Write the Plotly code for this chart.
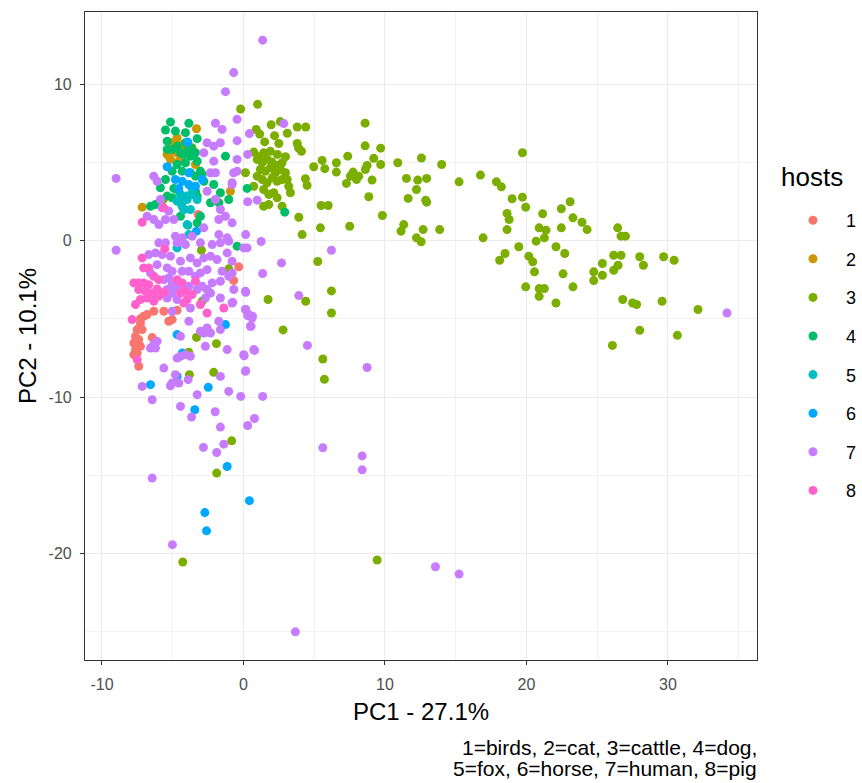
import plotly.graph_objects as go

# ---------------- data ----------------
host_labels = ["1", "2", "3", "4", "5", "6", "7", "8"]
host_colors = ["#F8766D", "#CD9600", "#7CAE00", "#00BE67", "#00BFC4", "#00A9FF", "#C77CFF", "#FF61CC"]

birds_x = [-3.20, -0.33, -0.69, -6.34, -5.63, -4.69, -5.04, -5.28, -7.05, -7.28, -7.51, -7.63, -7.75, -7.63,
           -7.75, -7.51, -7.28, -7.40, -7.16, -6.81, -7.28, -7.40, -6.45]
birds_y = [1.66, -1.68, -2.56, -4.52, -4.52, -4.46, -5.05, -5.16, -4.84, -5.27, -5.69, -6.12, -6.55, -6.97,
           -7.29, -7.19, -6.76, -6.33, -5.69, -4.73, -4.99, -8.04, -6.20]

cat_x = [-3.32, -4.69, -5.04, -4.69, -5.16, -4.57, -3.39, -0.92, -7.16, -5.28, -4.40, -5.40]
cat_y = [7.14, 6.57, 6.25, 5.61, 5.18, 5.07, 4.86, 3.15, 2.13, 5.39, 6.10, 5.50]

cattle_x = [-0.2, 1.0, 8.6, 1.96, 2.6, 3.8, 4.4, 0.9, 1.15, 2.2, 3.1, 1.5, 2.5, 3.8, 3.9, 4.1, 8.6, 9.7,
            0.73, 1.08, 1.43, 1.9, 2.4, 2.97,
            0.97, 1.32, 1.67, 2.03, 2.38, 2.73, 1.20, 1.55, 1.91, 2.26, 2.61, 2.97, 3.09, 2.73, 0.97, 1.32,
            1.67, 2.03, 2.38, 0.73, 1.43, 1.79, 2.14, 2.38, 1.43, 1.79, 2.73, 3.32, 3.20, 0.14,
            3.91, 4.15, 4.38, 4.50, 4.97, 5.56, 5.75, 6.57, 6.57, 7.37, 7.56, 7.75, 7.99, 7.28, 8.15, 8.62,
            8.74, 9.21, 9.70, 9.09, 8.86, 9.82, 10.91, 11.52, 12.58, 12.32, 12.95, 12.23, 11.64, 12.88, 12.95,
            14.01, 15.24, 16.75, 5.49, 5.99, 5.44, 7.51, 11.14, 11.33, 12.23, 12.56, 12.70, 13.87, 5.25,
            19.72, 17.88, 18.23, 18.99, 19.72, 19.95, 18.63, 18.78, 18.63, 16.94, 21.15, 22.47, 23.09, 23.29,
            23.93, 24.29, 22.47, 20.90, 21.39, 21.27, 20.69, 19.46, 18.49, 18.11, 20.17, 20.45, 20.57, 22.09,
            22.71, 22.59, 19.95, 20.90, 21.27, 20.90, 22.09, 23.29, 26.45, 26.69, 27.0, 24.76, 24.76, 25.37,
            25.37, 26.17, 26.69, 26.48, 26.17, 28.01, 28.27, 29.70, 30.44, 26.81, 27.51, 27.79, 29.59, 32.13,
            28.01, 30.67, 26.08,
            1.74, 4.40, 6.22, 6.22, 2.80, 5.61, 5.72, -0.83, 9.45, -2.97, -1.04, -3.32, -1.91, -3.82, -2.10,
            -2.92, -3.87, -1.89, -4.29, -3.63, -5.67]
cattle_y = [8.4, 8.7, 7.5, 7.4, 7.6, 7.25, 7.25, 7.1, 6.8, 6.7, 6.85, 6.3, 6.2, 6.2, 5.9, 5.7, 6.05, 5.9,
            5.65, 5.35, 5.6, 5.7, 5.5, 5.35,
            5.18, 4.97, 5.18, 5.01, 4.80, 4.97, 4.54, 4.43, 4.65, 4.33, 4.54, 4.33, 3.90, 3.90, 4.11, 3.90,
            3.69, 4.01, 3.79, 3.47, 3.26, 2.94, 3.05, 2.73, 2.19, 2.30, 2.19, 3.05, 3.47, 4.33,
            1.49, 0.38, 3.95, 3.52, 4.71, 5.12, 4.59, 4.97, 4.37, 5.39, 4.11, 4.37, 3.90, 3.65, 4.11, 4.54,
            4.80, 5.25, 4.86, 3.86, 2.80, 1.60, 4.97, 3.97, 5.27, 3.86, 3.97, 3.26, 2.69, 2.58, 2.45,
            4.86, 3.75, 4.18, 2.24, 2.24, 0.81, 0.91, 0.60, 1.02, 0.17, -0.08, 0.70, 0.70, -1.34,
            5.61, 3.75, 3.43, 2.67, 2.77, 2.13, 1.73, 1.34, 0.70, 0.17, 1.71, 2.03, 2.48, 1.45,
            1.17, 0.70, 0.81, 0.81, 0.66, 0.17, -0.04, -0.40, -0.83, -1.26, -1.00, -1.36, -2.00, -0.40,
            -0.83, -2.13, -2.96, -3.07, -3.07, -3.56, -3.99, -2.96, 0.81, 0.28, 0.28, -2.00, -2.56, -1.47,
            -2.22, -0.94, -0.94, -1.58, -1.90, -1.04, -1.58, -1.04, -1.26, -3.77, -3.99, -4.09, -3.88, -4.41,
            -5.74, -6.06, -6.70,
            -3.77, -3.88, -3.22, -4.63, -5.71, -7.57, -8.87, -12.80, -20.41, -0.62, -1.81, -6.19, -6.59, -8.57, -8.42,
            -3.88, -7.14, -14.86, -20.54, 5.93, 2.62]

dog_x = [-5.16, -3.86, -5.51, -4.81, -4.10, -3.27, -5.39, -5.39, -4.69, -4.10, -3.75, -4.22, -3.75, -3.27,
         -4.10, -4.69, -3.04, -1.27, -3.75, -5.51, -5.87, -5.04, -5.39, -4.33, -3.98, -3.27, -2.10, -1.63,
         -1.04, -1.74, -2.33, -6.57, -6.22, -4.45, -3.93, -3.27, -3.04, -0.45, 0.26, -3.39, -2.80, -4.57,
         -4.92, -5.04, -4.45, -3.98, -3.39, -4.33, -5.04, -3.39, -2.92, 2.92]
dog_y = [7.57, 7.49, 7.06, 6.99, 6.89, 6.51, 6.35, 5.82, 6.03, 6.25, 5.93, 5.50, 5.39, 5.07,
         4.97, 4.86, 4.43, 5.39, 4.33, 3.90, 3.37, 2.73, 2.84, 2.62, 2.84, 2.84, 3.58, 3.05,
         2.62, 2.41, 2.41, 2.19, 2.30, 1.55, 0.98, 1.13, 1.55, -0.36, 3.33, 3.15, 3.79, 3.15,
         3.33, 5.82, 5.61, 5.71, 5.61, 4.43, 4.43, 4.11, 4.22, 1.81]

fox_x = [-4.45, -3.98, -3.63, -4.33, -4.69, -4.22, -3.86, -3.63, -3.27, -3.75, -3.98, -4.69, -4.45, -3.98]
fox_y = [2.94, 2.62, 2.94, 2.19, 2.52, 1.98, 0.38, 3.33, 2.62, 1.98, 1.02, -0.47, 2.41, 2.83]

horse_x = [-3.93, -5.39, -4.81, -4.33, -3.86, -2.92, -3.39, -3.86, -4.57, -3.32, -1.27, -4.69, -4.33,
           -4.69, -6.57, -2.49, -3.44, -1.15, 0.42, -2.73, -2.61]
horse_y = [6.29, 4.71, 3.90, 3.79, 3.58, 3.90, 3.47, 4.33, 3.33, 0.60, -5.37, -6.01, -7.19,
           -8.68, -9.21, -9.38, -10.81, -14.44, -16.62, -17.38, -18.55]

human_x = [1.36, -0.69, -1.27, -0.45, 0.42, 2.85, 0.30, -0.69, -0.45, -0.80, 0.30, 0.97, 0.16, 1.25,
           0.02, 6.22, 2.69, 1.36, -0.80,
           -9.0, -1.98, -1.51, -0.45, -1.63, -2.57, -2.10, -2.80, -2.33, -0.45, -2.57, -1.98, -1.63,
           -6.34, -6.10, -5.87, -6.81, -6.34, -5.98, -5.51, -5.28, -4.92, -4.81, -4.33, -3.63, -2.80,
           -1.74, -1.27, -0.80, -1.74, -1.15, -5.75, -2.10, -1.98,
           -9.0, -5.98, -5.51, -4.69, -4.10, -3.04, -2.21, -1.63, -1.04, 0.26, -6.69, -6.22, -5.75,
           -5.16, -4.45, -3.75, -3.27, -2.80, -2.33, -1.86, -1.15, -0.80, -0.80, -1.51, -6.57, -6.10,
           -5.39, -5.04, -4.33, -3.86, -3.39, -3.04, -2.57, -5.63, -5.28, -5.04, -5.39, -5.04, -4.69,
           -4.22, -3.86, -5.39, -4.69, -3.27, -2.92, -2.57, -2.33, -2.69, -2.21, -1.63, -1.04, -0.68,
           0.14, -1.63, -0.80, -3.75, -5.04, -3.86, -3.04, -2.57, -2.33, -2.80, -1.74, -1.63, 0.14,
           0.38, 0.61, 0.49, -4.45, -2.69, -1.15, 0.02, 0.73, -6.34, -6.22, -6.57, -6.10, -4.69,
           -4.45, -4.10, -3.75, -5.63, -4.81, -5.04, -4.57, -3.91, -1.63, 0.14, -1.04, -3.27, -0.19,
           -6.45, -7.16, -4.45,
           0.16, -0.76, 3.91, 0.16, 0.30, 0.64, 0.54, 4.52, 0.78, 0.05, 0.16, 8.74, 1.36, 0.78,
           0.30, 5.61, 8.39, 8.39, 13.57, 15.24, 3.67,
           -5.16, -3.67, -2.0, -1.63, -1.39, -2.83, -1.89, -6.45, -5.02, 34.18]
human_y = [12.80, 10.73, 9.51, 7.74, 6.83, 7.47, 5.50, 4.33, 4.43, 3.69, 2.48, 2.58, 0.38, -0.06,
           -0.47, -0.62, -1.43, -2.11, 3.58,
           3.97, 7.49, 7.10, 5.18, 6.25, 6.25, 5.07, 5.61, 4.33, 6.38, 3.15, 2.62, 1.98,
           4.11, 3.79, 2.62, 1.55, 1.34, 1.02, 1.34, 1.88, 1.34, 0.28, 0.17, 0.28, 0.81,
           1.34, 1.55, 1.13, 0.38, 0.17, 2.09, 6.03, 4.33,
           -0.62, -0.15, -0.15, -0.15, -0.26, -0.15, -0.26, -0.15, -0.04, -0.47, -0.90, -0.79, -0.90,
           -1.00, -1.32, -1.11, -1.43, -1.11, -1.00, -1.22, -0.79, -1.32, -2.07, -1.96, -2.07, -1.54,
           -1.75, -1.96, -1.96, -1.96, -2.28, -2.07, -1.86, -2.50, -2.39, -2.82, -3.13, -3.35, -3.03,
           -3.13, -2.92, -3.67, -3.77, -3.13, -2.92, -3.13, -3.35, -3.67, -2.71, -2.60, -2.28, -3.13,
           -3.24, -3.67, -3.99, -4.31, -4.52, -5.16, -5.80, -5.59, -5.91, -5.91, -5.16, -5.69, -4.41,
           -4.73, -4.95, -5.48, -6.12, -6.76, -6.97, -7.29, -6.97, -6.65, -6.87, -6.87, -6.44, -7.51,
           -7.40, -7.29, -7.40, -8.15, -8.57, -9.10, -9.10, -8.89, -8.68, -8.36, -9.64, -9.85, -9.96,
           -10.17, -9.32, -10.60,
           -3.31, -3.95, -3.52, -4.41, -4.80, -4.84, -5.48, -6.70, -7.02, -7.36, -8.32, -8.11, -9.96, -11.37,
           -11.82, -13.24, -13.76, -14.65, -20.84, -21.31, -25.0,
           -9.28, -11.28, -10.94, -11.92, -13.01, -13.22, -13.54, -15.18, -19.43, -4.63]

pig_x = [-5.63, -7.16, -7.16, -7.05, -6.69, -5.56, -7.75, -7.40, -7.05, -6.69, -6.34, -5.99, -7.63, -7.28,
         -6.81, -6.34, -5.99, -7.40, -6.93, -6.45, -4.69, -4.33, -4.45, -4.10, -3.98, -4.22, -3.63, -3.39,
         -3.04, -2.57, -1.39, -7.87, -7.51, -5.60, -6.10]
pig_y = [2.09, 1.17, -1.11, -1.75, -1.75, -0.53, -2.71, -2.71, -2.71, -2.82, -2.28, -2.50, -4.09, -3.77,
         -3.67, -3.88, -3.56, -3.13, -3.24, -3.35, -2.50, -2.71, -3.35, -3.24, -3.77, -3.99, -3.45, -2.60,
         -4.09, -4.63, -4.31, -5.05, -7.61, -3.30, -3.10]

groups_x = [birds_x, cat_x, cattle_x, dog_x, fox_x, horse_x, human_x, pig_x]
groups_y = [birds_y, cat_y, cattle_y, dog_y, fox_y, horse_y, human_y, pig_y]

x_ticks = [-10, 0, 10, 20, 30]
y_ticks = [-20, -10, 0, 10]
x_title = "PC1 - 27.1%"
y_title = "PC2 - 10.1%"
legend_title = "hosts"
caption_lines = ["1=birds, 2=cat, 3=cattle, 4=dog,", "5=fox, 6=horse, 7=human, 8=pig"]

# ---------------- figure ----------------
FONT = "Liberation Sans, Arial, sans-serif"
fig = go.Figure()
for lab, col, xs, ys in zip(host_labels, host_colors, groups_x, groups_y):
    fig.add_trace(go.Scatter(
        x=xs, y=ys, mode="markers", name=lab, legendgroup=lab,
        marker=dict(color=col, size=9, line=dict(width=0)),
    ))

axis_common = dict(
    showgrid=True, gridcolor="#EBEBEB", gridwidth=1.1,
    zeroline=False, showline=True, linecolor="#333333", linewidth=1.2, mirror=True,
    ticks="outside", ticklen=4, tickcolor="#333333", tickwidth=1,
    tickfont=dict(family=FONT, size=16, color="#4D4D4D"),
    minor=dict(dtick=5, tick0=0, showgrid=True, gridcolor="#F2F2F2", gridwidth=0.8, ticks=""),
)
fig.update_xaxes(range=[-11.2, 36.3], tickvals=x_ticks, ticktext=[str(v) for v in x_ticks],
                 ticklabelstandoff=6, **axis_common)
fig.update_yaxes(range=[-26.8, 14.6], tickvals=y_ticks, ticktext=[str(v) for v in y_ticks],
                 ticklabelstandoff=5, **axis_common)

annotations = [
    dict(text=x_title, xref="paper", yref="paper", x=0.5, y=-0.0802, xanchor="center", yanchor="middle",
         showarrow=False, font=dict(family=FONT, size=24, color="#000000")),
    dict(text=y_title, xref="paper", yref="paper", x=-0.0863, y=0.5, xanchor="center", yanchor="middle",
         textangle=-90, showarrow=False, font=dict(family=FONT, size=24, color="#000000")),
    dict(text=legend_title, xref="paper", yref="paper", x=1.0327, y=0.7454, xanchor="left", yanchor="middle",
         showarrow=False, font=dict(family=FONT, size=26, color="#000000")),
]
for i, line in enumerate(caption_lines):
    annotations.append(dict(text=line, xref="paper", yref="paper", x=1.003, y=-0.1343 - i * 0.0324,
                            xanchor="right", yanchor="middle", showarrow=False,
                            font=dict(family=FONT, size=21, color="#000000")))

fig.update_layout(
    width=862, height=783,
    margin=dict(l=85, r=105, t=12, b=123, autoexpand=False),
    plot_bgcolor="white", paper_bgcolor="white",
    font=dict(family=FONT, color="#000000"),
    showlegend=True,
    legend=dict(
        font=dict(family=FONT, size=18, color="#000000"),
        x=1.0342, xanchor="left", y=0.7068, yanchor="top",
        traceorder="grouped", tracegroupgap=12.2, itemwidth=56,
        bgcolor="rgba(0,0,0,0)",
    ),
    annotations=annotations,
)

fig.write_html("out.html")
